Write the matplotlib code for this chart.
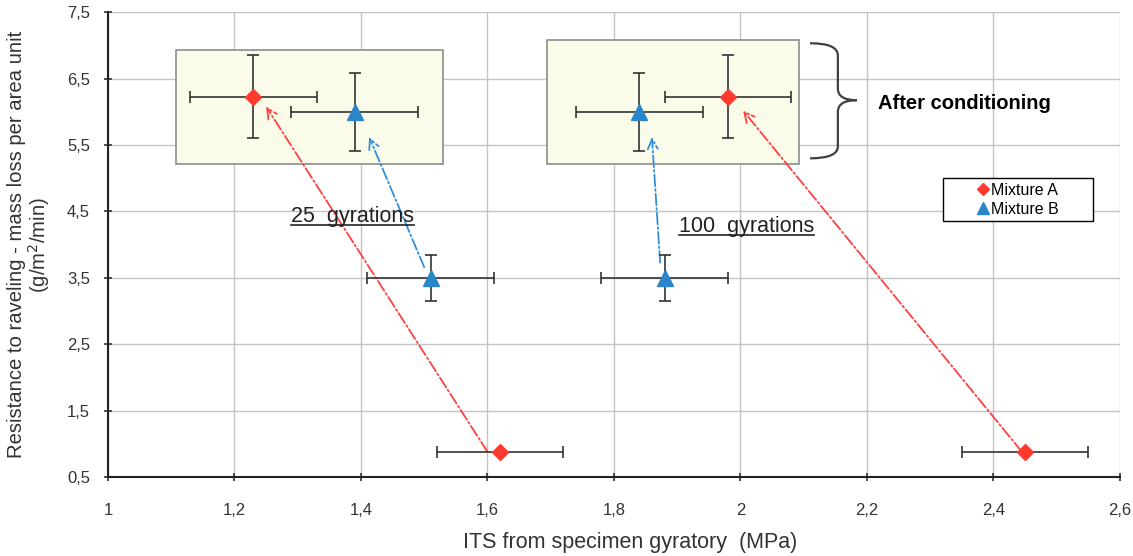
import matplotlib
matplotlib.use("Agg")
import matplotlib.pyplot as plt
from matplotlib.path import Path
from matplotlib.patches import PathPatch, Rectangle
from matplotlib.lines import Line2D
from matplotlib.ticker import FuncFormatter

plt.rcParams['font.family'] = ['Liberation Sans', 'DejaVu Sans']

# dados
# Mixture A: 25 gir. antes, 100 gir. antes, 25 gir. depois, 100 gir. depois
a_x = [1.62, 2.45, 1.23, 1.98]
a_y = [0.87, 0.87, 6.23, 6.23]
a_xerr = [0.10, 0.10, 0.10, 0.10]
a_yerr = [0.0, 0.0, 0.62, 0.62]

b_x = [1.51, 1.88, 1.39, 1.84]
b_y = [3.50, 3.50, 6.00, 6.00]
b_xerr = [0.10, 0.10, 0.10, 0.10]
b_yerr = [0.35, 0.35, 0.59, 0.59]

# setas (início -> fim)
setas_a = [((1.60, 0.88), (1.25, 6.08)), ((2.445, 0.88), (2.004, 6.02))]
setas_b = [((1.50, 3.66), (1.413, 5.62)), ((1.873, 3.73), (1.86, 5.62))]

# caixas "after conditioning" (x0, y0, x1, y1)
caixas = [(1.107, 5.21, 1.53, 6.93), (1.694, 5.21, 2.093, 7.08)]

x_ticks = [1, 1.2, 1.4, 1.6, 1.8, 2.0, 2.2, 2.4, 2.6]
y_ticks = [0.5, 1.5, 2.5, 3.5, 4.5, 5.5, 6.5, 7.5]

fig = plt.figure(figsize=(11.33, 5.56), dpi=100)
ax = fig.add_axes([0.0953, 0.142, 0.8932, 0.836])

for (x0, y0, x1, y1) in caixas:
    ax.add_patch(Rectangle((x0, y0), x1 - x0, y1 - y0, facecolor='#FBFBEA',
                           edgecolor='#8C8C8C', lw=1.2, zorder=1))

ax.errorbar(a_x, a_y, xerr=a_xerr, yerr=a_yerr, fmt='none', ecolor='#333333',
            elinewidth=1.2, capsize=4, capthick=1.2, zorder=3)
ax.errorbar(b_x, b_y, xerr=b_xerr, yerr=b_yerr, fmt='none', ecolor='#333333',
            elinewidth=1.2, capsize=4, capthick=1.2, zorder=3)

ax.plot(a_x, a_y, ls='none', marker='D', ms=8, color='#FF3B2F', zorder=4, label='Mixture A')
ax.plot(b_x, b_y, ls='none', marker='^', ms=11, color='#2A86C8', zorder=4, label='Mixture B')

for (ini, fim) in setas_a:
    ax.annotate('', xy=fim, xytext=ini,
                arrowprops=dict(arrowstyle='->', color='#FF4040', lw=1.3, ls='-.',
                                mutation_scale=18, shrinkA=0, shrinkB=0), zorder=2)
for (ini, fim) in setas_b:
    ax.annotate('', xy=fim, xytext=ini,
                arrowprops=dict(arrowstyle='->', color='#3090D8', lw=1.3, ls='-.',
                                mutation_scale=18, shrinkA=0, shrinkB=0), zorder=2)

# chave "}"
verts = [(2.110, 7.033), (2.154, 7.033), (2.154, 6.85),
         (2.154, 6.35),
         (2.154, 6.175), (2.184, 6.175),
         (2.154, 6.175), (2.154, 6.00),
         (2.154, 5.48),
         (2.154, 5.30), (2.110, 5.30)]
codes = [Path.MOVETO, Path.CURVE3, Path.CURVE3, Path.LINETO, Path.CURVE3, Path.CURVE3,
         Path.CURVE3, Path.CURVE3, Path.LINETO, Path.CURVE3, Path.CURVE3]
ax.add_patch(PathPatch(Path(verts, codes), facecolor='none', edgecolor='#404040',
                       lw=1.6, zorder=2, clip_on=False))
ax.text(2.218, 6.12, 'After conditioning', fontsize=14.5, fontweight='bold', va='center')

t25 = ax.text(1.386, 4.42, '25  gyrations', fontsize=15.5,
              ha='center', va='center', color='#222222')
t100 = ax.text(2.009, 4.28, '100  gyrations', fontsize=15.5,
               ha='center', va='center', color='#222222')

ax.set_xlim(1, 2.6)
ax.set_ylim(0.5, 7.5)
ax.set_xticks(x_ticks)
ax.set_yticks(y_ticks)
fmt = FuncFormatter(lambda v, p: ('%g' % v).replace('.', ','))
ax.xaxis.set_major_formatter(fmt)
ax.yaxis.set_major_formatter(fmt)
ax.tick_params(labelsize=12, colors='#333333', direction='inout', length=6, width=1.2)
ax.tick_params(axis='x', pad=16)
ax.tick_params(axis='y', pad=10)
ax.grid(True, color='#C4C4C4', lw=1)
ax.set_axisbelow(True)
for s in ['top', 'right']:
    ax.spines[s].set_visible(False)
for s in ['left', 'bottom']:
    ax.spines[s].set_color('#222222')
    ax.spines[s].set_linewidth(1.5)

ax.set_xlabel('ITS from specimen gyratory  (MPa)', fontsize=15.5, color='#333333', labelpad=10)
ax.xaxis.label.set_x(0.516)
ax.set_ylabel('Resistance to raveling - mass loss per area unit\n(g/m$^2$/min)',
              fontsize=14.6, color='#333333', labelpad=11, linespacing=1.0)

# legenda: moldura desenhada à parte, itens centralizados nela
ax.add_patch(Rectangle((0.825, 0.551), 0.148, 0.092, transform=ax.transAxes,
                       facecolor='white', edgecolor='black', lw=1.0, zorder=5))
leg = ax.legend(loc='center', bbox_to_anchor=(0.899, 0.597), fontsize=11.5,
                frameon=False, handletextpad=0.1, handlelength=0.8, markerscale=0.75,
                borderpad=0.2, labelspacing=0.25)
leg.set_zorder(6)

# sublinhado dos textos de giração
fig.canvas.draw()
inv = fig.transFigure.inverted()
for t in (t25, t100):
    bb = t.get_window_extent()
    (x0, y0), (x1, _) = inv.transform([(bb.x0, bb.y0 + 2), (bb.x1, bb.y0)])
    fig.add_artist(Line2D([x0, x1], [y0, y0], color='#222222', lw=1.2))

fig.savefig('out.png', dpi=100)
